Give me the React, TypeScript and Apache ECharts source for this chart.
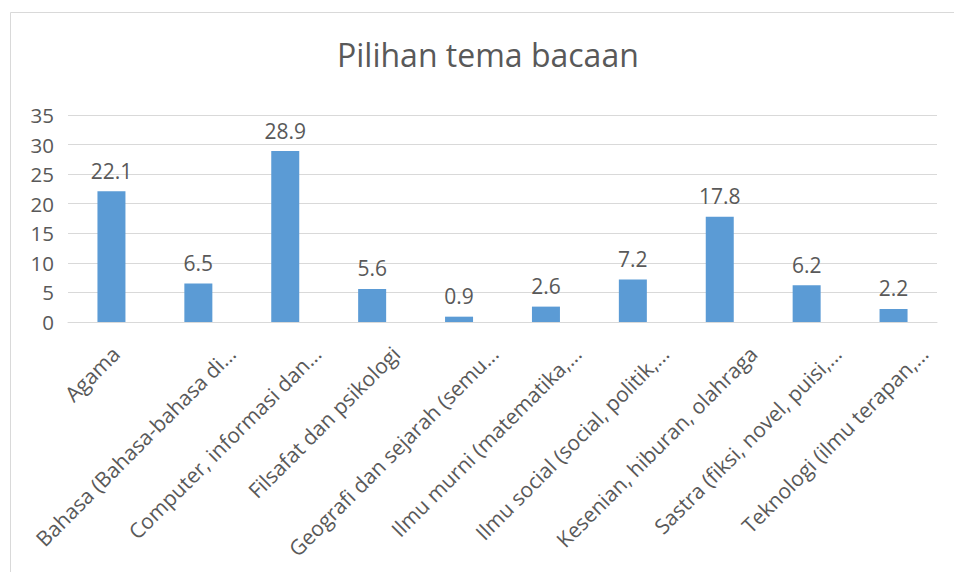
import React, { useEffect, useRef } from "react";
import * as echarts from "echarts";

const categories = [
  "Agama",
  "Bahasa (Bahasa-bahasa di...",
  "Computer, informasi dan...",
  "Filsafat dan psikologi",
  "Geografi dan sejarah (semu...",
  "Ilmu murni (matematika,...",
  "Ilmu social (social, politik,...",
  "Kesenian, hiburan, olahraga",
  "Sastra (fiksi, novel, puisi,...",
  "Teknologi (ilmu terapan,...",
];
const values = [22.1, 6.5, 28.9, 5.6, 0.9, 2.6, 7.2, 17.8, 6.2, 2.2];
const titleText = "Pilihan tema bacaan";

const FONT = "'Open Sans', 'Noto Sans', sans-serif";
const TEXT = "#595959";
const CAT_FONT_SIZE = 21;
const LABEL_MARGIN = -10;

// Excel-like placement of 45° rotated category labels: longer labels sit further right.
function labelRich() {
  const canvas = document.createElement("canvas");
  const ctx = canvas.getContext("2d");
  const R = Math.SQRT1_2;
  const baseY = 28; // anchor distance below the axis
  const rich: Record<string, any> = {};
  categories.forEach((c, i) => {
    let L = c.length * CAT_FONT_SIZE * 0.5;
    if (ctx) {
      ctx.font = `${CAT_FONT_SIZE}px 'Open Sans'`;
      L = ctx.measureText(c).width;
    }
    const W = (L + CAT_FONT_SIZE) * R;
    const dx = 0.2 * W - 8;
    const s = R * (dx + baseY - LABEL_MARGIN);
    const f = R * (dx - baseY + LABEL_MARGIN);
    const right = Math.max(0, -f);
    rich["p" + i] = {
      padding: [2 * s, right, 0, 0],
      color: TEXT,
      fontSize: CAT_FONT_SIZE,
      fontFamily: FONT,
    };
  });
  return rich;
}

export default function App() {
  const ref = useRef<HTMLDivElement>(null);
  useEffect(() => {
    if (!ref.current) return;
    const chart = echarts.init(ref.current, null, { renderer: "svg" });
    chart.setOption({
      animation: false,
      backgroundColor: "#ffffff",
      textStyle: { fontFamily: FONT },
      title: {
        text: titleText,
        left: 332,
        top: 33,
        textStyle: { fontFamily: FONT, fontSize: 32, fontWeight: "normal", color: TEXT },
      },
      graphic: [
        {
          type: "rect",
          shape: { x: 10.5, y: 12.5, width: 1000, height: 700 },
          style: { fill: "none", stroke: "#D9D9D9", lineWidth: 1 },
          silent: true,
        },
      ],
      grid: { left: 68, right: 17, top: 115, height: 207, containLabel: false },
      xAxis: {
        type: "category",
        data: categories,
        axisLine: { show: true, lineStyle: { color: "#D9D9D9", width: 1 } },
        axisTick: { show: false },
        axisLabel: {
          rotate: 45,
          interval: 0,
          margin: LABEL_MARGIN,
          color: TEXT,
          fontSize: CAT_FONT_SIZE,
          fontFamily: FONT,
          formatter: (v: string, i: number) => `{p${i}|${v}}`,
          rich: labelRich(),
        },
      },
      yAxis: {
        type: "value",
        min: 0,
        max: 35,
        interval: 5,
        axisLine: { show: false },
        axisTick: { show: false },
        splitLine: { lineStyle: { color: "#D9D9D9", width: 1 } },
        axisLabel: { color: TEXT, fontSize: 20.5, fontFamily: FONT, margin: 14 },
      },
      series: [
        {
          type: "bar",
          data: values,
          barWidth: 28,
          itemStyle: { color: "#5B9BD5" },
          label: {
            show: true,
            position: "top",
            distance: 10,
            color: TEXT,
            fontSize: 21,
            fontFamily: FONT,
          },
        },
      ],
    });
    return () => chart.dispose();
  }, []);
  return (
    <div
      ref={ref}
      style={{ position: "fixed", left: 0, top: 0, width: 954, height: 572 }}
    />
  );
}
